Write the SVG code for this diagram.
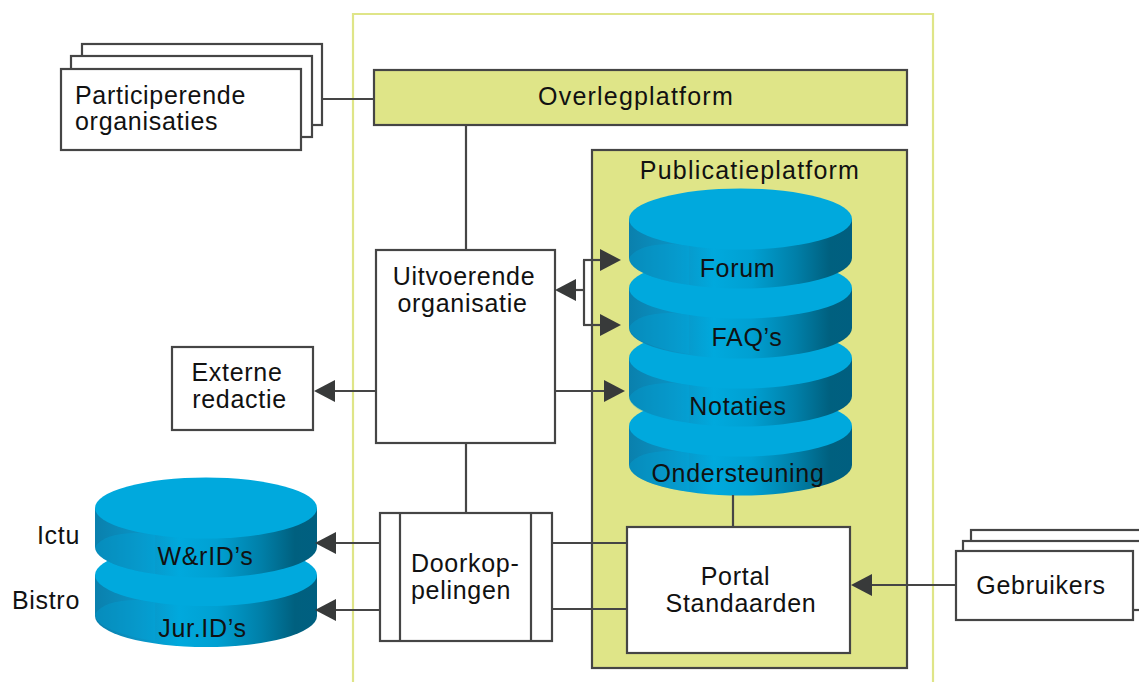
<svg xmlns="http://www.w3.org/2000/svg" width="1139" height="682" viewBox="0 0 1139 682">
<style>
.box{fill:#fff;stroke:#454545;stroke-width:2.2}
.green{fill:#dfe588;stroke:#454545;stroke-width:2.2}
.top{fill:#00a9dd}
.side{fill:url(#cyl)}
.conn{fill:none;stroke:#454545;stroke-width:2.2}
.arrow{marker-end:url(#ah)}
text{font-family:"Liberation Sans",Arial,sans-serif;font-size:25px;fill:#111;text-anchor:middle;letter-spacing:.7px}
.s{text-anchor:start}
.e{text-anchor:end}
.w{letter-spacing:1.2px}
</style>
<defs>
<linearGradient id="cyl" x1="0" y1="0" x2="1" y2="0">
<stop offset="0" stop-color="#0a80ad"/>
<stop offset=".2" stop-color="#0a93c4"/>
<stop offset=".38" stop-color="#00a9dd"/>
<stop offset=".55" stop-color="#00a0d2"/>
<stop offset=".75" stop-color="#007fa8"/>
<stop offset=".9" stop-color="#00607f"/>
<stop offset="1" stop-color="#005f80"/>
</linearGradient>
<path id="sheen" d="M0,39Q12,21 60,26V66A111.500,30.500 0 0 1 0,39Z" fill="#00a9dd" opacity=".3"/>
<marker id="ah" markerUnits="userSpaceOnUse" viewBox="0 0 21 22" markerWidth="21" markerHeight="22" refX="5" refY="11" orient="auto">
<path d="M0,0L21,11L0,22Z" fill="#383a3a"/>
</marker>
</defs>
<rect width="1139" height="682" fill="#fff"/>
<path d="M353,682V14H933V682" fill="none" stroke="#dfe588" stroke-width="2.2"/>

<g id="participerende">
<rect class="box" x="82" y="44" width="240" height="81"/>
<rect class="box" x="71" y="56" width="241" height="81"/>
<rect class="box" x="61" y="69" width="240" height="81"/>
<text class="s" x="75" y="104">Participerende</text>
<text class="s" x="75" y="130">organisaties</text>
</g>
<g id="overlegplatform">
<rect class="green" x="374" y="70" width="533" height="55"/>
<text class="w" x="636" y="105">Overlegplatform</text>
</g>
<g id="publicatieplatform">
<rect class="green" x="592" y="150" width="315" height="518"/>
<text class="w" x="750" y="179">Publicatieplatform</text>
</g>
<g id="ondersteuning">
<path class="side" d="M629,426V465A111.500,30.500 0 0 0 852,465V426Z"/>
<use href="#sheen" x="629" y="426"/>
<ellipse class="top" cx="740.500" cy="426" rx="111.500" ry="30.500"/>
<text x="738" y="482">Ondersteuning</text>
</g>
<g id="notaties">
<path class="side" d="M629,358V396A111.500,30.500 0 0 0 852,396V358Z"/>
<use href="#sheen" x="629" y="358"/>
<ellipse class="top" cx="740.500" cy="358" rx="111.500" ry="30.500"/>
<text x="738" y="415">Notaties</text>
</g>
<g id="faqs">
<path class="side" d="M629,288V328A111.500,30.500 0 0 0 852,328V288Z"/>
<use href="#sheen" x="629" y="288"/>
<ellipse class="top" cx="740.500" cy="288" rx="111.500" ry="30.500"/>
<text x="747" y="346">FAQ’s</text>
</g>
<g id="forum">
<path class="side" d="M629,219V258A111.500,30.500 0 0 0 852,258V219Z"/>
<use href="#sheen" x="629" y="219"/>
<ellipse class="top" cx="740.500" cy="219" rx="111.500" ry="30.500"/>
<text x="737.500" y="277">Forum</text>
</g>
<g id="uitvoerende">
<rect class="box" x="376" y="250" width="179" height="193"/>
<text x="464" y="285">Uitvoerende</text>
<text x="462.500" y="312">organisatie</text>
</g>
<g id="externe">
<rect class="box" x="172" y="347" width="141" height="83"/>
<text x="237" y="381">Externe</text>
<text x="239.500" y="408">redactie</text>
</g>
<g id="jur">
<text class="e" x="80" y="609">Bistro</text>
<path class="side" d="M95,575V616A111,31 0 0 0 317,616V575Z"/>
<use href="#sheen" x="95" y="575"/>
<ellipse class="top" cx="206" cy="575" rx="111" ry="31"/>
<text x="202.500" y="637">Jur.ID’s</text>
</g>
<g id="wrids">
<text class="e" x="80" y="544">Ictu</text>
<path class="side" d="M95,508V547A111,30.500 0 0 0 317,547V508Z"/>
<use href="#sheen" x="95" y="508"/>
<ellipse class="top" cx="206" cy="508" rx="111" ry="30.500"/>
<text x="205.500" y="565">W&amp;rID’s</text>
</g>
<g id="doorkoppelingen">
<rect class="box" x="380" y="513" width="172" height="128"/>
<path class="conn" d="M400,513V641M531,513V641"/>
<text class="s" x="411" y="572">Doorkop-</text>
<text class="s" x="411" y="599">pelingen</text>
</g>
<g id="portal">
<rect class="box" x="627" y="527" width="223" height="126"/>
<text x="735.500" y="585">Portal</text>
<text x="741" y="612">Standaarden</text>
</g>
<g id="gebruikers">
<rect class="box" x="971" y="530" width="200" height="69"/>
<rect class="box" x="963" y="541" width="200" height="69"/>
<rect class="box" x="956" y="551" width="177" height="69"/>
<text x="1041" y="594">Gebruikers</text>
</g>
<g id="connectors">
<path class="conn" d="M323,99H374M466,125V250M466,443V513M733,495V527"/>
<path class="conn arrow" d="M376,391H330"/>
<path class="conn arrow" d="M555,391H609"/>
<path class="conn arrow" d="M584,290H571"/>
<path class="conn" d="M584,260V325"/>
<path class="conn arrow" d="M583,260H605"/>
<path class="conn arrow" d="M583,325H605"/>
<path class="conn arrow" d="M380,543H331"/>
<path class="conn arrow" d="M380,610H331"/>
<path class="conn" d="M552,543H627M552,609H627"/>
<path class="conn arrow" d="M956,585H867"/>
</g>
</svg>
